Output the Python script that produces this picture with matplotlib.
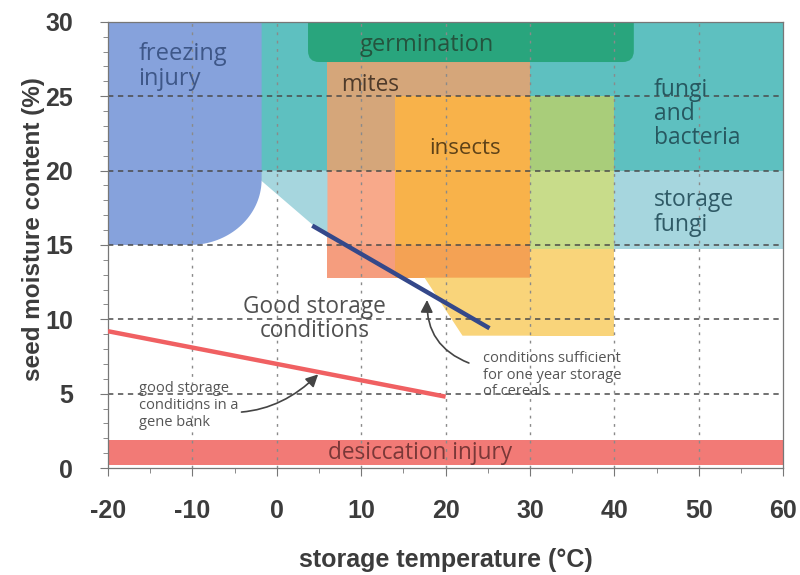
import numpy as np
import matplotlib.pyplot as plt
from matplotlib.patches import Polygon, FancyBboxPatch

# zones: name, x-range (deg C), moisture range (%)
zone_names = ["fungi", "storage_fungi_r", "green_hi", "green_lo", "yellow_lo",
              "mites_hi", "mites_col", "mites_mid", "mites_lo",
              "insects", "insects_lo", "desiccation"]
zone_x0 = [-20, 6, 30, 30, 30, 6, 6, 6, 6, 14, 14, -20]
zone_x1 = [60, 60, 40, 40, 40, 30, 14, 14, 14, 30, 30, 60]
zone_y0 = [20, 14.7, 20, 14.7, 8.9, 25, 20, 15, 12.8, 15, 12.8, 0.2]
zone_y1 = [30, 20, 25, 20, 14.7, 28, 25, 20, 15, 25, 15, 1.9]

# storage fungi wedge left of the mites, and slanted yellow corner
wedge_x = [-2, -2, 6, 6]
wedge_y = [20, 19.4, 15.5, 20]
yellow_x = [17.5, 22, 30, 30]
yellow_y = [12.8, 8.9, 8.9, 12.8]

# freezing injury: x from -20 to -2, y from 15 up, rounded lower right corner
freeze_x = [-20, -1.8]
freeze_y = [15, 30]
freeze_corner = [-10.3, 19.4]  # centre of the rounded corner

# germination box
germ_x = [3.7, 42.3]
germ_y = [27.3, 30]

# lines
cereal_t = [4.2, 25.2]
cereal_m = [16.3, 9.4]
genebank_t = [-20, 20]
genebank_m = [9.2, 4.8]

colors = {"fungi": "#5ec0c0", "storage_fungi_r": "#a6d6de", "green_hi": "#a9cd7a",
          "green_lo": "#c8dc8a", "yellow_lo": "#f9d47a", "mites_hi": "#d5a67a",
          "mites_col": "#d5a67a", "mites_mid": "#f8a98a", "mites_lo": "#f59d7e",
          "insects": "#f8b24a", "insects_lo": "#f4a254", "desiccation": "#f27a76"}

fig = plt.figure(figsize=(8, 5.75), dpi=100)
ax = fig.add_axes([0.135, 0.186, 0.844, 0.776])

for i, name in enumerate(zone_names):
    ax.fill_between([zone_x0[i], zone_x1[i]], zone_y0[i], zone_y1[i],
                    color=colors[name], lw=0, zorder=1)
ax.add_patch(Polygon(list(zip(wedge_x, wedge_y)), closed=True,
                     color=colors["storage_fungi_r"], lw=0, zorder=1))
ax.add_patch(Polygon(list(zip(yellow_x, yellow_y)), closed=True,
                     color=colors["yellow_lo"], lw=0, zorder=1))

# freezing injury shape
t = np.linspace(0, np.pi / 2, 40)
rx = freeze_x[1] - freeze_corner[0]
ry = freeze_corner[1] - freeze_y[0]
arc_x = freeze_corner[0] + rx * np.cos(t)
arc_y = freeze_corner[1] - ry * np.sin(t)
fx = np.concatenate([[freeze_x[0], freeze_x[1]], arc_x, [freeze_x[0]]])
fy = np.concatenate([[freeze_y[1], freeze_y[1]], arc_y, [freeze_y[0]]])
ax.add_patch(Polygon(np.column_stack([fx, fy]), closed=True, color="#86a2dc",
                     lw=0, zorder=1.5))

# germination, rounded box (top sticks out of the axes)
ax.add_patch(FancyBboxPatch((germ_x[0], germ_y[0]), germ_x[1] - germ_x[0],
                            germ_y[1] - germ_y[0] + 1.5,
                            boxstyle="round,pad=0,rounding_size=1.3",
                            mutation_aspect=0.57, color="#29a57d", lw=0,
                            zorder=1.6))

# grid
for yv in [5, 10, 15, 20, 25]:
    ax.axhline(yv, color="#4a4a4a", lw=1.1, dashes=(3.5, 3), zorder=2)
for xv in [-10, 0, 10, 20, 30, 40, 50]:
    ax.axvline(xv, color="#8a8a8a", lw=1.0, dashes=(2, 4), zorder=2)

ax.plot(cereal_t, cereal_m, color="#34488a", lw=3.2, zorder=3,
        solid_capstyle="butt")
ax.plot(genebank_t, genebank_m, color="#f06062", lw=3.2, zorder=3,
        solid_capstyle="butt")

lab = dict(family="Open Sans", zorder=4)
ax.text(-16.4, 27.0, "freezing\ninjury", fontsize=17, color="#3e5788",
        va="center", ha="left", linespacing=1.05, **lab)
ax.text(17.8, 28.45, "germination", fontsize=17, color="#24543e",
        va="center", ha="center", **lab)
ax.text(11, 25.75, "mites", fontsize=16.3, color="#4e3a2a", va="center",
        ha="center", **lab)
ax.text(22.3, 21.5, "insects", fontsize=16, color="#5e4218", va="center",
        ha="center", **lab)
ax.text(44.7, 23.8, "fungi\nand\nbacteria", fontsize=16.5, color="#275860",
        va="center", ha="left", linespacing=1.0, **lab)
ax.text(44.7, 17.2, "storage\nfungi", fontsize=16.5, color="#2f5a66",
        va="center", ha="left", linespacing=1.05, **lab)
ax.text(17, 1.0, "desiccation injury", fontsize=16.3, color="#7a3838",
        va="center", ha="center", **lab)
ax.text(4.5, 10.0, "Good storage\nconditions", fontsize=16.3, color="#505050",
        va="center", ha="center", linespacing=1.0, **lab)

ax.annotate("good storage\nconditions in a\ngene bank", xy=(4.9, 6.3),
            xytext=(-16.3, 4.2), fontsize=10.5, color="#555555",
            va="center", ha="left", linespacing=1.15, family="Open Sans",
            zorder=4,
            arrowprops=dict(arrowstyle="-|>,head_length=0.7,head_width=0.35",
                            color="#444444", lw=1.2, shrinkA=62, shrinkB=0,
                            connectionstyle="arc3,rad=0.3"))
ax.annotate("conditions sufficient\nfor one year storage\nof cereals",
            xy=(17.8, 11.3), xytext=(24.4, 6.25), fontsize=10.5,
            color="#555555", va="center", ha="left", linespacing=1.15,
            family="Open Sans", zorder=4,
            arrowprops=dict(arrowstyle="-|>,head_length=0.7,head_width=0.35",
                            color="#444444", lw=1.2, shrinkA=0, shrinkB=0,
                            relpos=(-0.1, 0.75),
                            connectionstyle="arc3,rad=-0.35"))

ax.set_xlim(-20, 60)
ax.set_ylim(0, 30)
ax.set_xticks(range(-20, 61, 10))
ax.set_xticks(range(-20, 61, 5), minor=True)
ax.set_yticks(range(0, 31, 5))
ax.set_yticks(range(0, 31, 1), minor=True)
tick_font = dict(family="Liberation Sans", weight="bold", size=18)
ax.set_xticklabels([str(v) for v in range(-20, 61, 10)], color="#3c3c3c",
                   **tick_font)
ax.set_yticklabels([str(v) for v in range(0, 31, 5)], color="#3c3c3c",
                   **tick_font)
ax.tick_params(which="major", length=6, color="#777777")
ax.tick_params(axis="x", which="major", pad=16)
ax.tick_params(axis="y", which="major", pad=19)
ax.tick_params(which="minor", length=3.5, color="#777777")
for s in ax.spines.values():
    s.set_color("#777777")
    s.set_linewidth(0.9)

ax.set_xlabel("storage temperature (°C)", family="Liberation Sans",
              weight="bold", size=18, color="#3c3c3c", labelpad=18)
ax.set_ylabel("seed moisture content (%)", family="Liberation Sans",
              weight="bold", size=17.5, color="#3c3c3c")
ax.yaxis.set_label_coords(-0.093, 0.535)

fig.savefig("out.png", dpi=100)
